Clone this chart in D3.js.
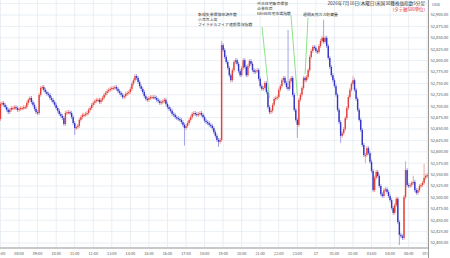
<!DOCTYPE html>
<html>
<head>
<meta charset="utf-8">
<script src="https://cdn.jsdelivr.net/npm/d3@7"></script>
<style>
  html, body { margin: 0; padding: 0; background: #fff; }
  svg { display: block; }
</style>
</head>
<body>
<script>
const WIDTH = 450;
const HEIGHT = 258;

// 5-minute closes, 07:00 -> 05:55 then 07:00 (bar 0 .. 276)
const closes = [
  52705, 52707, 52703, 52698, 52692, 52687, 52692, 52696, 52696, 52698,
  52696, 52692, 52694, 52696, 52696, 52698, 52698, 52707, 52714, 52718,
  52709, 52703, 52694, 52687, 52685, 52725, 52740, 52742, 52736, 52731,
  52727, 52725, 52718, 52714, 52709, 52703, 52696, 52690, 52683, 52679,
  52674, 52661, 52685, 52687, 52687, 52685, 52676, 52663, 52652, 52654,
  52657, 52670, 52676, 52681, 52681, 52683, 52685, 52692, 52696, 52703,
  52707, 52711, 52714, 52714, 52709, 52714, 52718, 52725, 52729, 52733,
  52736, 52738, 52740, 52740, 52742, 52738, 52733, 52729, 52725, 52720,
  52722, 52727, 52729, 52731, 52738, 52749, 52757, 52766, 52762, 52753,
  52744, 52738, 52731, 52722, 52716, 52714, 52718, 52720, 52720, 52720,
  52718, 52714, 52711, 52707, 52709, 52711, 52714, 52705, 52698, 52694,
  52690, 52683, 52681, 52676, 52674, 52672, 52670, 52665, 52659, 52652,
  52657, 52663, 52670, 52676, 52683, 52685, 52683, 52681, 52683, 52685,
  52681, 52676, 52668, 52665, 52663, 52659, 52657, 52652, 52643, 52635,
  52626, 52622, 52626, 52834, 52823, 52808, 52797, 52784, 52768, 52757,
  52779, 52797, 52801, 52793, 52777, 52768, 52784, 52801, 52786, 52768,
  52788, 52799, 52793, 52779, 52775, 52777, 52779, 52760, 52744, 52738,
  52740, 52751, 52731, 52698, 52687, 52690, 52703, 52716, 52718, 52720,
  52736, 52744, 52757, 52762, 52751, 52742, 52738, 52755, 52762, 52725,
  52692, 52670, 52659, 52714, 52725, 52740, 52762, 52757, 52764, 52779,
  52808, 52821, 52830, 52828, 52821, 52819, 52832, 52843, 52850, 52841,
  52850, 52832, 52806, 52786, 52768, 52757, 52744, 52725, 52692, 52665,
  52635, 52641, 52650, 52674, 52696, 52720, 52736, 52749, 52757, 52736,
  52716, 52692, 52670, 52648, 52615, 52593, 52593, 52608, 52597, 52578,
  52558, 52516, 52543, 52556, 52547, 52525, 52507, 52503, 52516, 52518,
  52512, 52503, 52494, 52477, 52466, 52483, 52497, 52446, 52418, 52415,
  52411, 52501, 52560, 52527, 52525, 52527, 52532, 52534, 52516, 52510,
  52516, 52525, 52527, 52532, 52543, 52547, 52549
];
const firstOpen = 52672;

// longer wicks that stand out in the picture
const wickIndex = [48, 119, 141, 143, 186, 192, 209, 220, 228, 236, 258, 262, 267, 274];
const wickHigh  = [null, null, null, 52839, 52863, null, 52885, null, 52762, null, null, 52575, 52543, 52569];
const wickLow   = [52641, 52618, 52615, null, null, 52635, null, 52624, null, 52580, 52400, null, null, null];

const tickLabels = ["07:00", "08:00", "09:00", "10:00", "11:00", "12:00", "13:00", "14:00",
  "15:00", "16:00", "17:00", "18:00", "19:00", "20:00", "21:00", "22:00", "23:00", "17",
  "01:00", "02:00", "03:00", "04:00", "05:00", "07:00"];
const tickIndex = [0, 12, 24, 36, 48, 60, 72, 84, 96, 108, 120, 132, 144, 156, 168, 180,
  192, 204, 216, 228, 240, 252, 264, 276];

const priceTicks = d3.range(52400, 52901, 25);

const eventIndex = [174, 192, 197];
const eventPrice = [52718, 52723, 52770];
const eventLabels = [
  ["新規失業保険申請件数", "小売売上高", "フィラデルフィア連銀景況指数"],
  ["中古住宅販売保留", "企業在庫", "NAHB住宅市場指数"],
  ["週間天然ガス貯蔵量"]
];

const TITLE = "2026年7月16日(木曜日)米国30種株価指数5分足";
const SUBTITLE = "(タテ軸500単位)";

const PLOT_RIGHT = 428;
const PLOT_BOTTOM = 248;

const x = d3.scaleLinear().domain([0, 276]).range([0.5, 427.2]);
const y = d3.scaleLinear().domain([52400, 52900]).range([243, 15]);

const candles = closes.map((c, i) => {
  const o = i === 0 ? firstOpen : closes[i - 1];
  const k = wickIndex.indexOf(i);
  let h = Math.max(o, c), l = Math.min(o, c);
  if (k >= 0) {
    if (wickHigh[k] != null) h = wickHigh[k];
    if (wickLow[k] != null) l = wickLow[k];
  }
  return { i, o, c, h, l };
});

const svg = d3.select("body").append("svg")
  .attr("width", WIDTH).attr("height", HEIGHT)
  .style("font-family", "'Noto Sans CJK JP', 'Noto Sans', sans-serif");

svg.append("rect").attr("width", WIDTH).attr("height", HEIGHT).attr("fill", "#fff");

svg.append("clipPath").attr("id", "plot")
  .append("rect").attr("width", PLOT_RIGHT).attr("height", PLOT_BOTTOM);

// grid
const grid = svg.append("g").attr("stroke", "#e3ebf1").attr("stroke-width", 0.8);
grid.selectAll(".h").data(d3.range(52400, 52926, 25)).join("line")
  .attr("x1", 0).attr("x2", PLOT_RIGHT)
  .attr("y1", d => y(d)).attr("y2", d => y(d));
grid.selectAll(".v").data(tickIndex).join("line")
  .attr("x1", d => x(d)).attr("x2", d => x(d))
  .attr("y1", 0).attr("y2", PLOT_BOTTOM);

// candles
const up = "#e2403a", down = "#3434c6";
const upPale = "#f0a3a0", downPale = "#a4a4e6";
const g = svg.append("g").attr("clip-path", "url(#plot)");
g.selectAll(".wick").data(candles).join("line")
  .attr("x1", d => x(d.i)).attr("x2", d => x(d.i))
  .attr("y1", d => y(d.h) - 2).attr("y2", d => y(d.l) + 2)
  .attr("stroke", d => d.c >= d.o ? upPale : downPale)
  .attr("stroke-width", 1);
g.selectAll(".body").data(candles).join("rect")
  .attr("x", d => x(d.i) - 0.7)
  .attr("width", 1.4)
  .attr("y", d => y(Math.max(d.o, d.c)))
  .attr("height", d => Math.max(1.2, Math.abs(y(d.o) - y(d.c))))
  .attr("fill", d => d.c >= d.o ? up : down);

// event markers
const labelPos = [[198, 16.4], [257, 5.4], [303, 16.4]];
const lineTop = [[262, 27], [291, 15.5], [308, 17.5]];
eventIndex.forEach((idx, k) => {
  svg.append("line")
    .attr("x1", lineTop[k][0]).attr("y1", lineTop[k][1])
    .attr("x2", x(idx)).attr("y2", y(eventPrice[k]))
    .attr("stroke", "#7fe07a").attr("stroke-width", 0.9);
  eventLabels[k].forEach((t, j) => {
    svg.append("text")
      .attr("x", labelPos[k][0]).attr("y", labelPos[k][1] + j * 4.8)
      .attr("font-size", 3.9).attr("fill", "#333")
      .text(t);
  });
});

// right panel
svg.append("rect").attr("x", PLOT_RIGHT).attr("width", WIDTH - PLOT_RIGHT)
  .attr("height", HEIGHT).attr("fill", "#fff");

// x axis labels
svg.append("g").selectAll("text").data(tickIndex).join("text")
  .attr("x", d => x(d)).attr("y", 254.8)
  .attr("text-anchor", "middle").attr("font-size", 3.8).attr("fill", "#555")
  .text((d, i) => tickLabels[i]);

svg.append("rect").attr("x", PLOT_RIGHT).attr("y", PLOT_BOTTOM)
  .attr("width", WIDTH - PLOT_RIGHT).attr("height", HEIGHT - PLOT_BOTTOM).attr("fill", "#fff");

svg.append("line").attr("x1", 0).attr("x2", PLOT_RIGHT)
  .attr("y1", PLOT_BOTTOM).attr("y2", PLOT_BOTTOM)
  .attr("stroke", "#c9c9c9").attr("stroke-width", 2);
svg.append("line").attr("x1", PLOT_RIGHT + 0.5).attr("x2", PLOT_RIGHT + 0.5)
  .attr("y1", 0).attr("y2", HEIGHT)
  .attr("stroke", "#9a9a9a").attr("stroke-width", 1);

// y axis labels
const fmt = d3.format(",.2f");
svg.append("g").selectAll("text").data(priceTicks).join("text")
  .attr("x", 430.5).attr("y", d => y(d) + 1.4)
  .attr("font-size", 4).attr("fill", "#555")
  .text(d => fmt(d));
svg.append("text").attr("x", 432).attr("y", 6.4)
  .attr("font-size", 4).attr("fill", "#555").text("USD");

// title
svg.append("text").attr("x", 425).attr("y", 4.9)
  .attr("text-anchor", "end").attr("font-size", 4.6).attr("fill", "#333")
  .text(TITLE);
svg.append("text").attr("x", 425).attr("y", 10.8)
  .attr("text-anchor", "end").attr("font-size", 4.4).attr("fill", "#e3261f")
  .text(SUBTITLE);
</script>
</body>
</html>
